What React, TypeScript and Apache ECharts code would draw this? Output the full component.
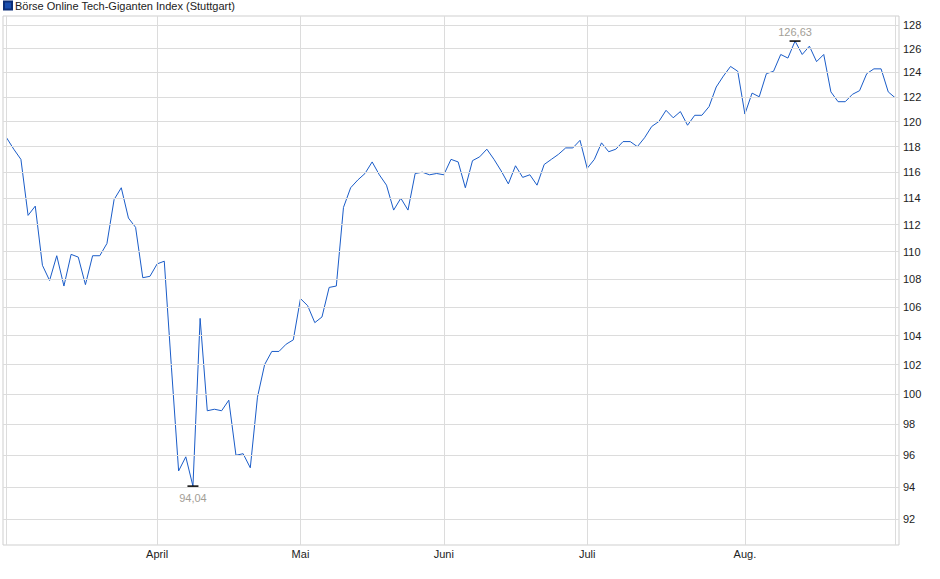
import { useEffect, useRef } from 'react';
import * as echarts from 'echarts';

const seriesName = 'Börse Online Tech-Giganten Index (Stuttgart)';

// daily closes, 3 March to 29 August
const closes = [
  118.7, 117.8, 117.0, 112.7, 113.4, 109.0, 107.9, 109.7, 107.5, 109.8,
  109.6, 107.6, 109.7, 109.7, 110.6, 113.9, 114.8, 112.5, 111.8, 108.1,
  108.2, 109.1, 109.3, 101.8, 95.0, 95.9, 94.04, 105.2, 98.9, 99.0,
  98.9, 99.6, 96.0, 96.1, 95.2, 99.8, 102.0, 102.9, 102.9, 103.4,
  103.7, 106.6, 106.1, 104.9, 105.3, 107.4, 107.5, 113.3, 114.8, 115.4,
  115.9, 116.8, 115.8, 115.0, 113.1, 114.0, 113.1, 115.9, 116.0, 115.8,
  115.9, 115.8, 117.0, 116.8, 114.8, 116.9, 117.2, 117.8, 117.0, 116.1,
  115.1, 116.5, 115.6, 115.8, 115.0, 116.6, 117.0, 117.4, 117.9, 117.9,
  118.5, 116.3, 117.0, 118.3, 117.6, 117.8, 118.4, 118.4, 118.0, 118.7,
  119.6, 120.0, 120.9, 120.3, 120.8, 119.7, 120.5, 120.5, 121.2, 122.8,
  123.7, 124.5, 124.1, 120.6, 122.3, 122.0, 123.9, 124.1, 125.5, 125.2,
  126.63, 125.5, 126.2, 124.9, 125.5, 122.4, 121.6, 121.6, 122.2, 122.5,
  123.9, 124.3, 124.3, 122.4, 121.9,
];

const monthLabels = ['April', 'Mai', 'Juni', 'Juli', 'Aug.'];
const monthStartIdx = [21, 41, 61, 81, 103];

const yTicks = [92, 94, 96, 98, 100, 102, 104, 106, 108, 110, 112, 114, 116, 118, 120, 122, 124, 126, 128];

const FONT = '"Liberation Sans", Arial, sans-serif';
const GRID = '#dcdcdc';

const fmt = (v: number) => v.toFixed(2).replace('.', ',');

export default function App() {
  const ref = useRef<HTMLDivElement>(null);
  useEffect(() => {
    if (!ref.current) return;
    const chart = echarts.init(ref.current, undefined, { renderer: 'svg' });
    const categories = closes.map((_, i) => String(i));
    const vLines = [0, ...monthStartIdx, closes.length - 1];
    chart.setOption({
      animation: false,
      textStyle: { fontFamily: FONT },
      legend: {
        data: [seriesName],
        left: 3,
        top: 0,
        padding: 0,
        icon: 'rect',
        itemWidth: 8,
        itemHeight: 8,
        textStyle: { fontSize: 11, color: '#222', fontFamily: FONT, padding: [0, 0, 0, -2] },
      },
      grid: {
        left: 3,
        right: 41,
        top: 16,
        bottom: 34,
        show: true,
        borderColor: '#cfcfcf',
        borderWidth: 1,
      },
      xAxis: {
        type: 'category',
        data: categories,
        boundaryGap: true,
        axisLine: { show: false },
        axisTick: { show: false },
        splitLine: { show: false },
        axisLabel: {
          interval: 0,
          margin: 3,
          fontSize: 11,
          color: '#222',
          fontFamily: FONT,
          formatter: (_v: string, i: number) => {
            const k = monthStartIdx.indexOf(i);
            return k >= 0 ? monthLabels[k] : '';
          },
        },
      },
      yAxis: {
        type: 'log',
        logBase: 10,
        min: 90.41,
        max: 128.77,
        position: 'right',
        axisLine: { show: false },
        axisTick: { show: false },
        axisLabel: { show: false },
        splitLine: { show: false },
      },
      series: [
        {
          type: 'line',
          data: [],
          z: 1,
          silent: true,
          markLine: {
            silent: true,
            symbol: ['none', 'none'],
            lineStyle: { type: 'solid', width: 1, color: GRID },
            label: {
              position: 'end',
              distance: 4,
              fontSize: 11,
              color: '#222',
              fontFamily: FONT,
              formatter: (p: { value: number }) => String(p.value),
            },
            data: [
              ...yTicks.map((v) => ({ yAxis: v })),
              ...vLines.map((i) => ({ xAxis: i, label: { show: false } })),
            ],
          },
        },
        {
          name: seriesName,
          type: 'line',
          data: closes,
          z: 3,
          showSymbol: false,
          symbol: 'none',
          lineStyle: { width: 1, color: '#1a5cc8' },
          itemStyle: { color: '#1a4fb0', borderColor: '#0c2f78', borderWidth: 1 },
          markPoint: {
            silent: true,
            symbol: 'rect',
            symbolSize: [11, 1.5],
            itemStyle: { color: '#000' },
            label: {
              fontSize: 11,
              color: '#a39e96',
              fontFamily: FONT,
              formatter: (p: { value: number }) => fmt(p.value),
            },
            data: [
              { type: 'max', label: { position: 'top', distance: 3 } },
              { type: 'min', label: { position: 'bottom', distance: 6 } },
            ],
          },
        },
      ],
    });
    return () => chart.dispose();
  }, []);
  return (
    <div
      ref={ref}
      style={{ position: 'fixed', left: 0, top: 0, width: 940, height: 579, background: '#fff' }}
    />
  );
}
